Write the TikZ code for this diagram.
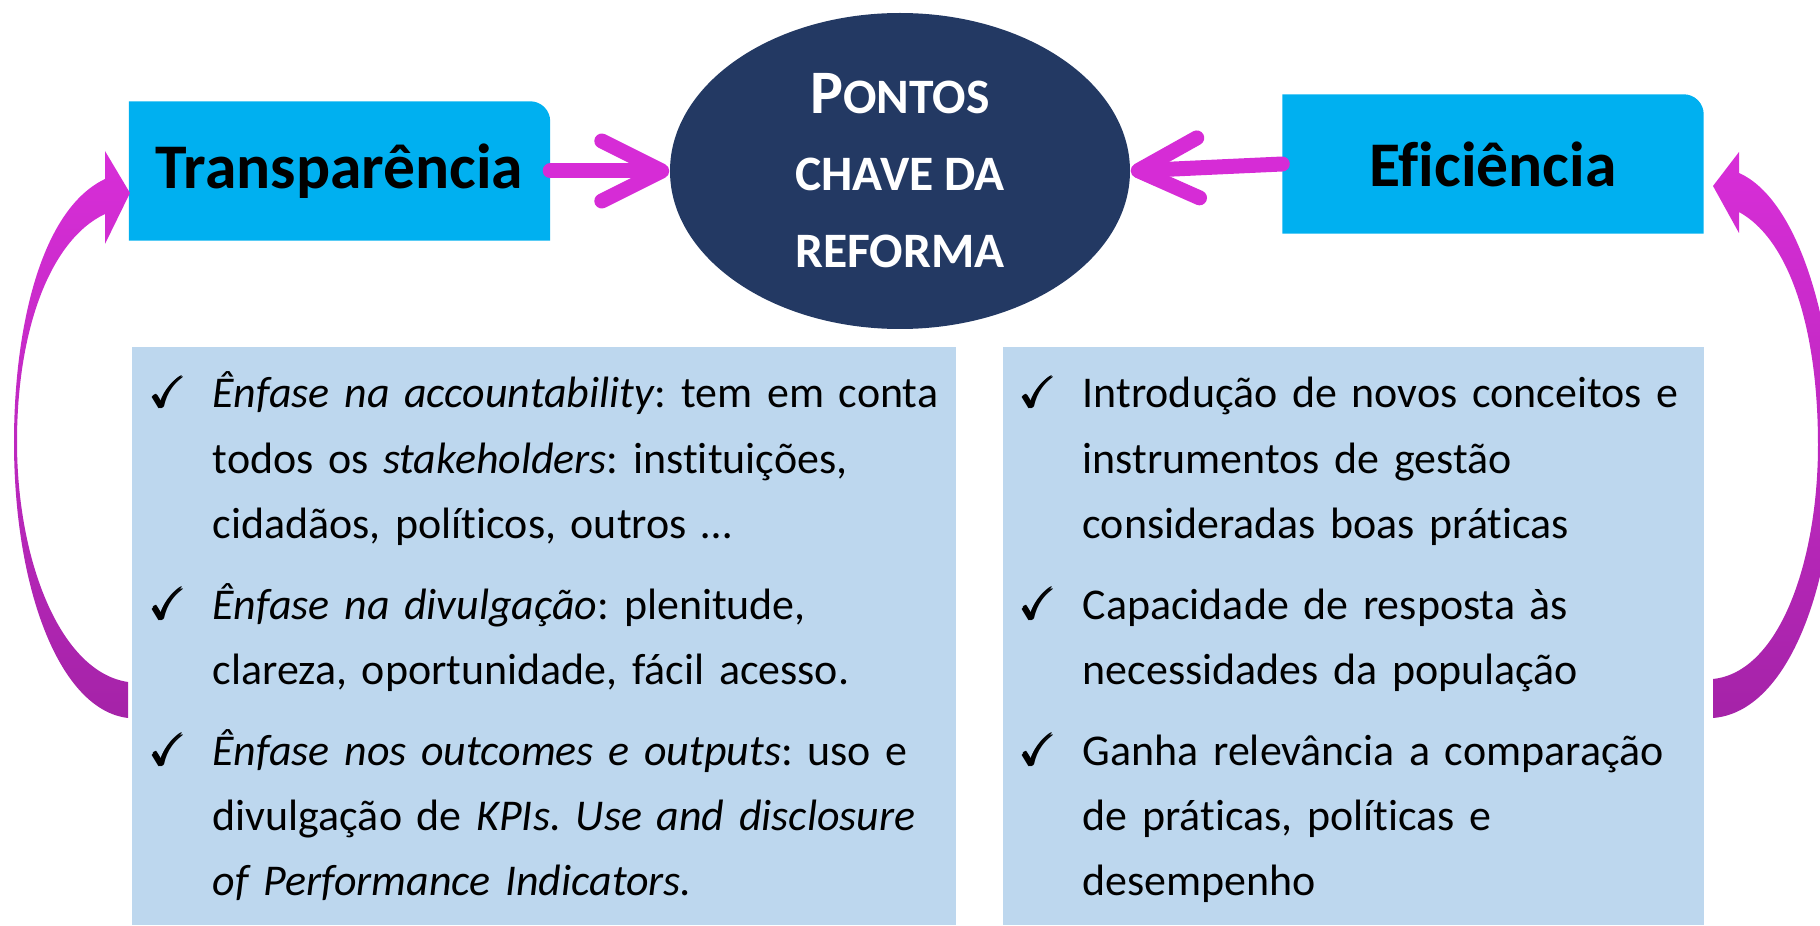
\documentclass[tikz,border=0pt]{standalone}
\usepackage{fontspec}
\setmainfont{Carlito}[Ligatures=CommonOff]
\usepackage{amsmath}
\usepackage{amssymb}
\usetikzlibrary{shapes.geometric, arrows.meta, backgrounds}
\definecolor{topcyan}{RGB}{0,176,240}
\definecolor{listblue}{RGB}{189,215,238}
\definecolor{navy}{RGB}{35,57,99}
\definecolor{arrowmag}{RGB}{214,44,214}
\definecolor{arrowtop}{RGB}{216,46,216}
\definecolor{arrowbot}{RGB}{165,35,168}
\newcommand{\chk}{\leavevmode\llap{$\pmb{\checkmark}$\hspace{0.26cm}}}
\frenchspacing

\begin{document}
\begin{tikzpicture}[
    topbox/.style={minimum width=4.2cm, minimum height=1.38cm, inner sep=0pt,
      font=\fontsize{18.1}{21}\selectfont\bfseries},
    listbox/.style={fill=listblue, anchor=south west, minimum height=5.78cm, inner sep=0pt},
    listtext/.style={anchor=base west, inner sep=0pt, text width=8cm, align=left,
      font=\fontsize{12.5}{18.5}\selectfont},
    shortarrow/.style={draw=arrowmag, line width=0.15cm, line cap=round,
      -{Straight Barb[round, length=0.6cm, width=0.6cm]}},
    bigarrow/.style={top color=arrowtop, bottom color=arrowbot, draw=none}
  ]
  \useasboundingbox (0,0) rectangle (18.2,9.26);

  % centre
  \node[ellipse, fill=navy, minimum width=4.6cm, minimum height=3.16cm, inner sep=0pt,
    text=white, align=center, font=\fontsize{14.1}{21.9}\selectfont\bfseries]
    (pontos) at (9.0,7.55) {{\fontsize{17.6}{21.9}\selectfont P}ONTOS\\CHAVE DA\\REFORMA};

  % top boxes
  \node[topbox] (trans) at (3.395,7.55) {Transparência};
  \node[topbox] (efic) at (14.93,7.62) {Eficiência};
  \begin{scope}[on background layer]
    \fill[topcyan] (trans.south west) -- (trans.north west)
      -- ([xshift=-0.2cm]trans.north east) arc[start angle=90, end angle=0, radius=0.2cm]
      -- (trans.south east) -- cycle;
    \fill[topcyan] (efic.south west) -- (efic.north west)
      -- ([xshift=-0.2cm]efic.north east) arc[start angle=90, end angle=0, radius=0.2cm]
      -- (efic.south east) -- cycle;
  \end{scope}

  % lists
  \node[listbox, minimum width=8.24cm] (tbox) at (1.31,0) {};
  \node[listbox, minimum width=7.01cm] (ebox) at (10.02,0) {};
  \node[listtext] (tlist) at (2.12,5.18) {%
    \chk\textit{Ênfase na accountability}: tem em conta\\
    todos os \textit{stakeholders}: instituições,\\
    cidadãos, políticos, outros …\\[0.16cm]
    \chk\textit{Ênfase na divulgação}: plenitude,\\
    clareza, oportunidade, fácil acesso.\\[0.16cm]
    \chk\textit{Ênfase nos outcomes e outputs}: uso e\\
    divulgação de \textit{KPIs. Use and disclosure}\\
    \textit{of Performance Indicators.}};
  \node[listtext] (elist) at (10.82,5.18) {%
    \chk Introdução de novos conceitos e\\
    instrumentos de gestão\\
    consideradas boas práticas\\[0.16cm]
    \chk Capacidade de resposta às\\
    necessidades da população\\[0.16cm]
    \chk Ganha relevância a comparação\\
    de práticas, políticas e\\
    desempenho};

  % arrows
  \draw[shortarrow] (trans.east) -- (pontos.west);
  \draw[shortarrow] (efic.west) -- (pontos.east);

  \shade[bigarrow] (1.28,2.08) .. controls (0.60,2.16) and (0.14,3.36) .. (0.14,4.84)
    .. controls (0.14,5.96) and (0.40,7.16) .. (1.05,7.47)
    -- (1.05,7.75) -- (1.30,7.33) -- (1.05,6.82) -- (1.05,7.12)
    .. controls (0.50,6.86) and (0.17,5.96) .. (0.17,4.84)
    .. controls (0.17,3.66) and (0.60,2.54) .. (1.28,2.44) -- cycle;
  \shade[bigarrow] (17.13,2.08) .. controls (17.90,2.14) and (18.35,3.46) .. (18.35,4.81)
    .. controls (18.35,5.96) and (18.00,7.26) .. (17.39,7.53)
    -- (17.39,7.74) -- (17.13,7.40) -- (17.39,6.93) -- (17.39,7.14)
    .. controls (17.90,6.86) and (18.18,5.96) .. (18.18,4.81)
    .. controls (18.18,3.66) and (17.80,2.54) .. (17.13,2.47) -- cycle;
\end{tikzpicture}
\end{document}
